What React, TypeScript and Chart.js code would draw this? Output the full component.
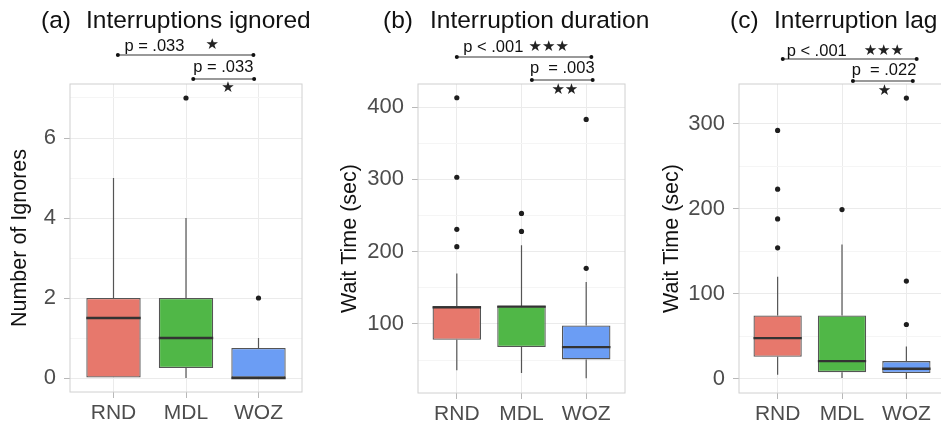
import React, { useEffect, useRef } from 'react';
import { Chart, registerables } from 'chart.js';

Chart.register(...registerables);

// ---------- data ----------
const categories = ['RND', 'MDL', 'WOZ'];
const boxColors = ['#E7786C', '#50B747', '#6B9DF4'];

// (a) Interruptions ignored
const ignoresLow = [0, 0, 0];
const ignoresQ1 = [0, 0.25, 0];
const ignoresMedian = [1.5, 1, 0];
const ignoresQ3 = [2, 2, 0.75];
const ignoresHigh = [5, 4, 1];
const ignoresOutliers: number[][] = [[], [7], [2]];
const ignoresMajorTicks = [0, 2, 4, 6];
const ignoresMinorTicks = [1, 3, 5, 7];

// (b) Interruption duration
const durationLow = [36, 32, 25];
const durationQ1 = [78, 68, 51];
const durationMedian = [123, 124, 68];
const durationQ3 = [125, 125, 98];
const durationHigh = [170, 209, 158];
const durationOutliers: number[][] = [[413, 303, 231, 207], [253, 228], [383, 177]];
const durationMajorTicks = [100, 200, 300, 400];
const durationMinorTicks = [50, 150, 250, 350];

// (c) Interruption lag
const lagLow = [5, 1, 0];
const lagQ1 = [26, 8, 7];
const lagMedian = [48, 21, 12];
const lagQ3 = [74.5, 74.5, 21];
const lagHigh = [120, 158, 38];
const lagOutliers: number[][] = [[292, 223, 188, 154], [199], [330, 115, 64]];
const lagMajorTicks = [0, 100, 200, 300];
const lagMinorTicks = [50, 150, 250];

// ---------- panel specs ----------
type Bracket = {
  x1: number; x2: number; y: number;
  label: string; labelX: number; labelY: number;
  stars: string; starsX: number; starsY: number;
};

type PanelSpec = {
  tag: string; title: string; yTitle: string;
  low: number[]; q1: number[]; median: number[]; q3: number[]; high: number[];
  outliers: number[][];
  yMin: number; yMax: number; major: number[]; minor: number[];
  brackets: Bracket[];
  left: number; width: number; chartLeft: number; chartRight: number; chartBottom: number;
  yTitleX: number; tagX: number; titleX: number;
};

const panels: PanelSpec[] = [
  {
    tag: '(a)', title: 'Interruptions ignored', yTitle: 'Number of Ignores',
    low: ignoresLow, q1: ignoresQ1, median: ignoresMedian, q3: ignoresQ3, high: ignoresHigh,
    outliers: ignoresOutliers,
    yMin: -0.35, yMax: 7.35, major: ignoresMajorTicks, minor: ignoresMinorTicks,
    brackets: [
      { x1: 0.06, x2: 1.93, y: 55, label: 'p = .033', labelX: 0.15, labelY: 46, stars: '★', starsX: 1.36, starsY: 45 },
      { x1: 1.1, x2: 1.94, y: 79, label: 'p = .033', labelX: 1.1, labelY: 67, stars: '★', starsX: 1.58, starsY: 88 },
    ],
    left: 0, width: 320, chartLeft: 70, chartRight: 302, chartBottom: 392,
    yTitleX: 20, tagX: 41, titleX: 86,
  },
  {
    tag: '(b)', title: 'Interruption duration', yTitle: 'Wait Time (sec)',
    low: durationLow, q1: durationQ1, median: durationMedian, q3: durationQ3, high: durationHigh,
    outliers: durationOutliers,
    yMin: 4.5, yMax: 432, major: durationMajorTicks, minor: durationMinorTicks,
    brackets: [
      { x1: 0.0, x2: 2.08, y: 57, label: 'p < .001', labelX: 0.1, labelY: 47.5, stars: '★★★', starsX: 1.42, starsY: 47.5 },
      { x1: 1.16, x2: 2.1, y: 80, label: 'p  = .003', labelX: 1.13, labelY: 68, stars: '★★', starsX: 1.67, starsY: 90 },
    ],
    left: 320, width: 330, chartLeft: 418, chartRight: 625, chartBottom: 393,
    yTitleX: 350, tagX: 383, titleX: 430,
  },
  {
    tag: '(c)', title: 'Interruption lag', yTitle: 'Wait Time (sec)',
    low: lagLow, q1: lagQ1, median: lagMedian, q3: lagQ3, high: lagHigh,
    outliers: lagOutliers,
    yMin: -16.5, yMax: 346.5, major: lagMajorTicks, minor: lagMinorTicks,
    brackets: [
      { x1: 0.08, x2: 2.16, y: 59, label: 'p < .001', labelX: 0.14, labelY: 51, stars: '★★★', starsX: 1.65, starsY: 51 },
      { x1: 1.17, x2: 2.1, y: 81, label: 'p  = .022', labelX: 1.15, labelY: 70, stars: '★', starsX: 1.66, starsY: 91 },
    ],
    left: 640, width: 310, chartLeft: 739, chartRight: 945, chartBottom: 393,
    yTitleX: 672, tagX: 730, titleX: 774,
  },
];

const FONT = '"Liberation Sans", Arial, Helvetica, sans-serif';
const HEIGHT = 426;
const CHART_TOP = 84;
const Y_TITLE_SIZE = 21.5;

function makePlugin(spec: PanelSpec) {
  return {
    id: 'boxExtras',
    beforeDatasetsDraw(chart: any) {
      const { ctx, scales: { x, y } } = chart;
      ctx.save();
      ctx.strokeStyle = '#555555';
      ctx.lineWidth = 1.2;
      spec.low.forEach((lo, i) => {
        const px = x.getPixelForValue(i);
        ctx.beginPath();
        ctx.moveTo(px, y.getPixelForValue(lo));
        ctx.lineTo(px, y.getPixelForValue(spec.q1[i]));
        ctx.moveTo(px, y.getPixelForValue(spec.q3[i]));
        ctx.lineTo(px, y.getPixelForValue(spec.high[i]));
        ctx.stroke();
      });
      ctx.restore();
    },
    afterDatasetsDraw(chart: any) {
      const { ctx, scales: { y }, chartArea } = chart;
      const meta = chart.getDatasetMeta(0);
      ctx.save();
      ctx.strokeStyle = '#333333';
      ctx.lineWidth = 2.4;
      spec.median.forEach((m, i) => {
        const bar = meta.data[i];
        const half = bar.width / 2;
        const py = y.getPixelForValue(m);
        ctx.beginPath();
        ctx.moveTo(bar.x - half, py);
        ctx.lineTo(bar.x + half, py);
        ctx.stroke();
      });
      // panel border
      ctx.strokeStyle = '#d0d0d0';
      ctx.lineWidth = 1;
      ctx.strokeRect(chartArea.left, chartArea.top, chartArea.right - chartArea.left, chartArea.bottom - chartArea.top);
      ctx.restore();
    },
    afterDraw(chart: any) {
      const { ctx, scales: { x } } = chart;
      ctx.save();
      // title
      ctx.fillStyle = '#111111';
      ctx.font = `24.5px ${FONT}`;
      ctx.textBaseline = 'alphabetic';
      ctx.textAlign = 'left';
      ctx.fillText(spec.tag, spec.tagX - spec.left, 28);
      ctx.fillText(spec.title, spec.titleX - spec.left, 28);
      // brackets
      spec.brackets.forEach((b) => {
        const x1 = x.getPixelForValue(b.x1);
        const x2 = x.getPixelForValue(b.x2);
        ctx.strokeStyle = '#777777';
        ctx.lineWidth = 1.5;
        ctx.beginPath();
        ctx.moveTo(x1, b.y);
        ctx.lineTo(x2, b.y);
        ctx.stroke();
        ctx.fillStyle = '#111111';
        [x1, x2].forEach((px) => {
          ctx.beginPath();
          ctx.arc(px, b.y, 2, 0, Math.PI * 2);
          ctx.fill();
        });
        ctx.font = `16.5px ${FONT}`;
        ctx.textBaseline = 'middle';
        ctx.textAlign = 'left';
        ctx.fillText(b.label, x.getPixelForValue(b.labelX), b.labelY);
        ctx.fillStyle = '#222222';
        ctx.font = `15px "DejaVu Sans", sans-serif`;
        ctx.textAlign = 'center';
        ctx.fillText(b.stars, x.getPixelForValue(b.starsX), b.starsY);
      });
      ctx.restore();
    },
  };
}

function BoxPanel({ spec }: { spec: PanelSpec }) {
  const ref = useRef<HTMLCanvasElement>(null);
  useEffect(() => {
    const canvas = ref.current;
    if (!canvas) return;
    const padLeft = spec.yTitleX - spec.left - Y_TITLE_SIZE / 2;
    const yWidth = spec.chartLeft - spec.left - padLeft;
    const padRight = spec.width - (spec.chartRight - spec.left);
    const xHeight = HEIGHT - spec.chartBottom;
    const isMajor = (v: number) => spec.major.includes(v);
    const boxData = categories.map((_, i) => ({ x: i, y: [spec.q1[i], spec.q3[i]] }));
    const outlierData: { x: number; y: number }[] = [];
    spec.outliers.forEach((vals, i) => vals.forEach((v) => outlierData.push({ x: i, y: v })));

    const chart = new Chart(canvas, {
      type: 'bar',
      data: {
        datasets: [
          {
            type: 'bar',
            data: boxData as any,
            backgroundColor: boxColors,
            borderColor: '#555555',
            borderWidth: 1.3,
            borderSkipped: false,
            barPercentage: 0.75,
            categoryPercentage: 1,
          } as any,
          {
            type: 'scatter',
            data: outlierData,
            pointRadius: 2.6,
            pointBackgroundColor: '#1e1e1e',
            pointBorderWidth: 0,
            showLine: false,
          } as any,
        ],
      },
      options: {
        animation: false,
        responsive: true,
        maintainAspectRatio: false,
        layout: { padding: { left: padLeft, right: padRight, top: CHART_TOP, bottom: 0 } },
        plugins: { legend: { display: false }, tooltip: { enabled: false } },
        scales: {
          x: {
            type: 'linear',
            min: -0.6,
            max: 2.6,
            offset: false,
            afterBuildTicks: (scale: any) => {
              scale.ticks = categories.map((_, i) => ({ value: i }));
            },
            afterFit: (scale: any) => {
              scale.height = xHeight;
            },
            ticks: {
              callback: (v: any) => categories[v] ?? '',
              font: { family: FONT, size: 21 },
              color: '#4d4d4d',
              padding: 3,
              autoSkip: false,
              maxRotation: 0,
            },
            grid: { offset: false, color: '#ebebeb', lineWidth: 1, tickColor: '#b8b8b8', tickLength: 6 },
            border: { display: false },
          },
          y: {
            type: 'linear',
            min: spec.yMin,
            max: spec.yMax,
            afterBuildTicks: (scale: any) => {
              scale.ticks = [...spec.major, ...spec.minor].sort((a, b) => a - b).map((v) => ({ value: v }));
            },
            afterFit: (scale: any) => {
              scale.width = yWidth;
            },
            ticks: {
              callback: (v: any) => (isMajor(v) ? String(v) : ''),
              font: { family: FONT, size: 22 },
              color: '#4d4d4d',
              padding: 8,
              autoSkip: false,
            },
            grid: {
              color: (c: any) => (isMajor(c.tick?.value) ? '#ebebeb' : '#f5f5f5'),
              lineWidth: 1,
              tickColor: (c: any) => (isMajor(c.tick?.value) ? '#b8b8b8' : 'rgba(0,0,0,0)'),
              tickLength: 6,
            },
            border: { display: false },
            title: {
              display: true,
              text: spec.yTitle,
              color: '#111111',
              font: { family: FONT, size: Y_TITLE_SIZE, lineHeight: 1 },
              padding: 0,
            },
          },
        },
      } as any,
      plugins: [makePlugin(spec)],
    });
    return () => chart.destroy();
  }, [spec]);
  return (
    <div style={{ position: 'absolute', left: spec.left, top: 0, width: spec.width, height: HEIGHT }}>
      <canvas ref={ref} />
    </div>
  );
}

export default function App() {
  return (
    <div
      style={{
        position: 'fixed',
        left: 0,
        top: 0,
        width: 941,
        height: HEIGHT,
        overflow: 'hidden',
        background: '#ffffff',
      }}
    >
      {panels.map((p) => (
        <BoxPanel key={p.tag} spec={p} />
      ))}
    </div>
  );
}
